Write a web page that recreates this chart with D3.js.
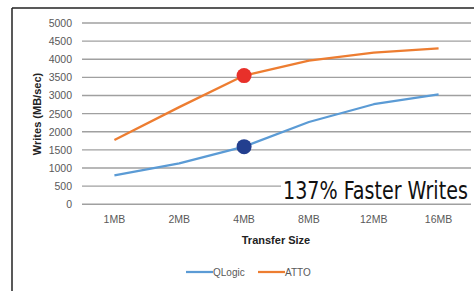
<!DOCTYPE html>
<html><head><meta charset="utf-8">
<script src="https://cdn.jsdelivr.net/npm/d3@7"></script>
<style>html,body{margin:0;padding:0;background:#fff;overflow:hidden}</style>
</head><body>
<script>
const categories = ["1MB","2MB","4MB","8MB","12MB","16MB"];
const qlogic = [800, 1130, 1590, 2270, 2760, 3030];
const atto = [1770, 2680, 3550, 3960, 4180, 4300];
const yTicks = [0,500,1000,1500,2000,2500,3000,3500,4000,4500,5000];
const highlightCategory = "4MB";
const annotation = "137% Faster Writes";

const W = 474, H = 291;
const svg = d3.select("body").append("svg").attr("width", W).attr("height", H);
const font = "'Liberation Sans', Arial, sans-serif";

// frame
svg.append("line").attr("x1",12).attr("x2",12).attr("y1",8).attr("y2",H).attr("stroke","#222").attr("stroke-width",1.5);
svg.append("line").attr("x1",12).attr("x2",W).attr("y1",8).attr("y2",8).attr("stroke","#222").attr("stroke-width",1.5);

const x = d3.scaleBand().domain(categories).range([82, 471]);
const y = d3.scaleLinear().domain([0, 5000]).range([204.3, 23]);

// gridlines
svg.append("g").selectAll("line").data(yTicks).join("line")
  .attr("x1",82).attr("x2",471)
  .attr("y1",d=>y(d)).attr("y2",d=>y(d))
  .attr("stroke","#a0a0a0").attr("stroke-width",1.4);

// y axis labels
const yAxis = svg.append("g").attr("transform","translate(82,0)")
  .call(d3.axisLeft(y).tickValues(yTicks).tickSize(0).tickPadding(10).tickFormat(d3.format("d")));
yAxis.select(".domain").remove();
yAxis.selectAll("text").attr("font-family",font).attr("font-size",10.5).attr("fill","#595959");

// x axis labels
const xAxis = svg.append("g").attr("transform","translate(0,204.3)")
  .call(d3.axisBottom(x).tickSize(0).tickPadding(11));
xAxis.select(".domain").remove();
xAxis.selectAll("text").attr("font-family",font).attr("font-size",10.5).attr("fill","#595959");

// axis titles
svg.append("text").attr("transform","translate(41,114) rotate(-90)").attr("text-anchor","middle")
  .attr("font-family",font).attr("font-size",11).attr("font-weight","bold").attr("fill","#222")
  .text("Writes (MB/sec)");
svg.append("text").attr("x",276).attr("y",244).attr("text-anchor","middle")
  .attr("font-family",font).attr("font-size",11).attr("font-weight","bold").attr("fill","#222")
  .text("Transfer Size");

// annotation box
svg.append("rect").attr("x",281).attr("y",174).attr("width",190).attr("height",27).attr("fill","#fff");
const ann = svg.append("text").attr("x",0).attr("y",0)
  .attr("font-family","'DejaVu Sans Condensed','DejaVu Sans',sans-serif").attr("font-stretch","condensed")
  .attr("font-size",24).attr("fill","#111")
  .text(annotation);
const annW = ann.node().getComputedTextLength();
ann.attr("transform",`translate(283,199) scale(${185/annW},1)`);

const cx = d => x(d) + x.bandwidth()/2;
const line = d3.line().x((d,i)=>cx(categories[i])).y(d=>y(d));

svg.append("path").datum(qlogic).attr("d",line).attr("fill","none").attr("stroke","#5b9bd5").attr("stroke-width",2.25).attr("stroke-linejoin","round");
svg.append("path").datum(atto).attr("d",line).attr("fill","none").attr("stroke","#ed7d31").attr("stroke-width",2.25).attr("stroke-linejoin","round");

const hi = categories.indexOf(highlightCategory);
svg.append("circle").attr("cx",cx(highlightCategory)).attr("cy",y(atto[hi])).attr("r",7.5).attr("fill","#e8302a");
svg.append("circle").attr("cx",cx(highlightCategory)).attr("cy",y(qlogic[hi])).attr("r",7.5).attr("fill","#233f8f");

// legend
const legend = [{name:"QLogic",color:"#5b9bd5",x:186},{name:"ATTO",color:"#ed7d31",x:258}];
const lg = svg.append("g");
legend.forEach(l=>{
  lg.append("line").attr("x1",l.x).attr("x2",l.x+27).attr("y1",272).attr("y2",272).attr("stroke",l.color).attr("stroke-width",2.25);
  lg.append("text").attr("x",l.x+27).attr("y",275.5).attr("font-family",font).attr("font-size",10).attr("fill","#595959").text(l.name);
});
</script>
</body></html>
